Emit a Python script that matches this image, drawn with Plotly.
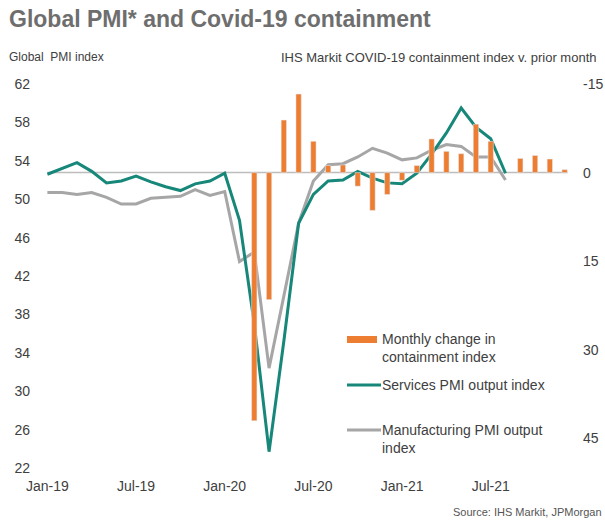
import plotly.graph_objects as go

months = ["Jan-19","Feb-19","Mar-19","Apr-19","May-19","Jun-19","Jul-19","Aug-19","Sep-19","Oct-19","Nov-19","Dec-19",
          "Jan-20","Feb-20","Mar-20","Apr-20","May-20","Jun-20","Jul-20","Aug-20","Sep-20","Oct-20","Nov-20","Dec-20",
          "Jan-21","Feb-21","Mar-21","Apr-21","May-21","Jun-21","Jul-21","Aug-21","Sep-21","Oct-21","Nov-21","Dec-21"]

services = [52.6, 53.2, 53.8, 52.9, 51.7, 51.9, 52.4, 51.8, 51.3, 50.9, 51.6, 51.9,
            52.7, 47.8, 37.0, 23.7, 35.2, 47.5, 50.5, 51.9, 52.0, 52.9, 52.2, 51.7,
            51.6, 52.7, 54.7, 56.9, 59.5, 57.5, 56.3, 52.7, None, None, None, None]

manufacturing = [50.7, 50.7, 50.5, 50.7, 50.2, 49.5, 49.5, 50.1, 50.2, 50.3, 51.0, 50.4,
                 50.8, 43.5, 44.5, 32.4, 39.9, 47.5, 51.9, 53.6, 53.7, 54.4, 55.3, 54.8,
                 54.1, 54.3, 55.1, 55.7, 55.5, 54.4, 54.4, 52.0, None, None, None, None]

containment = [None]*14 + [42.0, 21.5, -8.9, -13.3, -5.3, -1.2, -1.3, 2.3, 6.4, 3.7,
                           1.3, -1.2, -5.7, -3.6, -3.2, -8.2, -5.3, None, -2.4, -2.9, -2.3, -0.5]

x_ticks = ["Jan-19", "Jul-19", "Jan-20", "Jul-20", "Jan-21", "Jul-21"]
left_ticks = [22, 26, 30, 34, 38, 42, 46, 50, 54, 58, 62]
right_ticks = [-15, 0, 15, 30, 45]
right_tick_text = ["-15", "0", "15", "30", "45"]

ORANGE = "#ED7D31"
TEAL = "#17877A"
GREY = "#A6A6A6"
TXT = "#404040"

W, H = 605, 520
L, R, T, B = 40, 572, 84, 468


def px(x):
    return (x - L) / (R - L)


def py(y):
    return (B - y) / (B - T)


fig = go.Figure()
fig.add_trace(go.Bar(x=months, y=containment, yaxis="y2", marker_color=ORANGE,
                     width=0.36, name="Monthly change in containment index", showlegend=False))
fig.add_trace(go.Scatter(x=months, y=manufacturing, mode="lines", line=dict(color=GREY, width=3),
                         name="Manufacturing PMI output index", showlegend=False))
fig.add_trace(go.Scatter(x=months, y=services, mode="lines", line=dict(color=TEAL, width=3),
                         name="Services PMI output index", showlegend=False))

shapes = [
    dict(type="line", xref="x", yref="y2", x0=0, x1=35.2, y0=0, y1=0,
         line=dict(color="#BDBDBD", width=1.5), layer="below"),
    # legend swatches
    dict(type="rect", xref="paper", yref="paper", x0=px(347), x1=px(377), y0=py(343), y1=py(336),
         fillcolor=ORANGE, line=dict(width=0)),
    dict(type="line", xref="paper", yref="paper", x0=px(347), x1=px(381), y0=py(385), y1=py(385),
         line=dict(color=TEAL, width=3)),
    dict(type="line", xref="paper", yref="paper", x0=px(347), x1=px(381), y0=py(430), y1=py(430),
         line=dict(color=GREY, width=3)),
]

annotations = [
    dict(text="<b>Global PMI* and Covid-19 containment</b>", x=px(7), y=py(19), xanchor="left",
         yanchor="middle", font=dict(size=23, color="#6E6E6E", family="Liberation Sans, Arial")),
    dict(text="Global  PMI index", x=px(7), y=py(57), xanchor="left", yanchor="middle",
         font=dict(size=12, color=TXT)),
    dict(text="IHS Markit COVID-19 containment index v. prior month", x=px(599), y=py(57),
         xanchor="right", yanchor="middle", font=dict(size=13, color=TXT)),
    dict(text="Source: IHS Markit, JPMorgan", x=px(604), y=py(512), xanchor="right", yanchor="middle",
         font=dict(size=11, color="#555555")),
    dict(text="Monthly change in<br>containment index", x=px(380), y=py(348), xanchor="left",
         yanchor="middle", align="left", font=dict(size=14, color=TXT)),
    dict(text="Services PMI output index", x=px(380), y=py(385), xanchor="left", yanchor="middle",
         font=dict(size=14, color=TXT)),
    dict(text="Manufacturing PMI output<br>index", x=px(380), y=py(439), xanchor="left",
         yanchor="middle", align="left", font=dict(size=14, color=TXT)),
]
for a in annotations:
    a.update(xref="paper", yref="paper", showarrow=False)

fig.update_layout(
    width=W, height=H, autosize=False,
    margin=dict(l=L, r=W - R, t=T, b=H - B, pad=0, autoexpand=False),
    paper_bgcolor="white", plot_bgcolor="white",
    font=dict(family="Liberation Sans, Arial", size=14, color=TXT),
    xaxis=dict(type="category", range=[-0.5, 35.5], tickvals=x_ticks, ticktext=x_ticks,
               showgrid=False, zeroline=False, showline=False, ticks="", ticklabelstandoff=8,
               automargin=False, tickfont=dict(size=14, color=TXT)),
    yaxis=dict(range=[22, 62], tickvals=left_ticks, showgrid=False, zeroline=False, showline=False,
               ticks="", ticklabelstandoff=9, automargin=False, tickfont=dict(size=14, color=TXT)),
    yaxis2=dict(range=[50, -15], tickvals=right_ticks, ticktext=right_tick_text, overlaying="y",
                side="right", showgrid=False, zeroline=False, showline=False, ticks="",
                ticklabelstandoff=10, automargin=False, tickfont=dict(size=14, color=TXT)),
    shapes=shapes, annotations=annotations, showlegend=False, bargap=0.6,
)

fig.write_html("out.html")
